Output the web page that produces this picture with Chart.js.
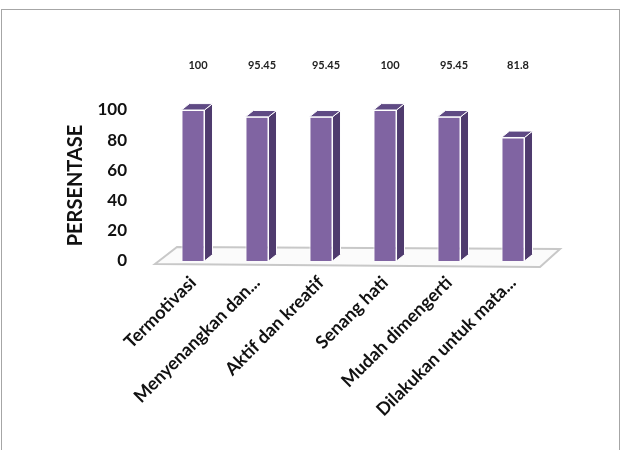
<!DOCTYPE html>
<html>
<head>
<meta charset="utf-8">
<script src="https://cdn.jsdelivr.net/npm/chart.js@4"></script>
<style>
  body { margin: 0; background: #fff; }
  #wrap { position: relative; width: 630px; height: 450px; }
  #frame { position: absolute; left: 1px; top: 9px; width: 619px; height: 450px; border: 1px solid #a6a6a6; box-sizing: border-box; }
  canvas { position: absolute; left: 0; top: 0; }
</style>
</head>
<body>
<div id="wrap">
  <div id="frame"></div>
  <canvas id="grafik" width="630" height="450"></canvas>
</div>
<script>
// data
var kategori = ['Termotivasi', 'Menyenangkan dan...', 'Aktif dan kreatif', 'Senang hati', 'Mudah dimengerti', 'Dilakukan untuk mata...'];
var persen = [100, 95.45, 95.45, 100, 95.45, 81.8];
var labelNilai = ['100', '95.45', '95.45', '100', '95.45', '81.8'];

var ungu = '#8064a2';
var unguGelap = '#4f3b6e';
var unguAtas = '#5f4a84';
var kedalaman = 8;

// lantai 3D di bawah batang
var lantai = {
    id: 'lantai',
    beforeDatasetsDraw: function(chart) {
        var c = chart.ctx, a = chart.chartArea;
        var y0 = chart.scales.y.getPixelForValue(0);
        c.save();
        c.beginPath();
        c.moveTo(a.left - 6, y0 + 3);
        c.lineTo(a.right - 5, y0 + 6);
        c.lineTo(a.right + 15, y0 - 12);
        c.lineTo(a.left + 16, y0 - 14);
        c.closePath();
        c.fillStyle = '#fbfbfb';
        c.fill();
        c.strokeStyle = '#c8c8c8';
        c.lineWidth = 2;
        c.stroke();
        c.restore();
    }
};

// sisi samping + atas batang, dan label nilai
var batang3d = {
    id: 'batang3d',
    afterDatasetsDraw: function(chart) {
        var c = chart.ctx;
        var meta = chart.getDatasetMeta(0);
        var d = kedalaman, dy = kedalaman * 0.8;
        c.save();
        meta.data.forEach(function(bar, i) {
            var l = bar.x - bar.width / 2, r = bar.x + bar.width / 2;
            var t = bar.y, b = bar.base;
            c.beginPath();
            c.moveTo(r, t);
            c.lineTo(r + d, t - dy);
            c.lineTo(r + d, b - dy);
            c.lineTo(r, b);
            c.closePath();
            c.fillStyle = unguGelap;
            c.fill();
            c.strokeStyle = '#ffffff';
            c.lineWidth = 1;
            c.stroke();
            c.beginPath();
            c.moveTo(l, t);
            c.lineTo(l + d, t - dy);
            c.lineTo(r + d, t - dy);
            c.lineTo(r, t);
            c.closePath();
            c.fillStyle = unguAtas;
            c.fill();
            c.stroke();

            c.fillStyle = '#222';
            c.font = 'bold 11px Lato';
            c.textAlign = 'center';
            c.textBaseline = 'middle';
            c.fillText(labelNilai[i], bar.x + 5, 65);
        });
        c.restore();
    }
};

new Chart(document.getElementById('grafik'), {
    type: 'bar',
    data: {
        labels: kategori,
        datasets: [{
            data: persen,
            backgroundColor: ungu,
            borderColor: '#ffffff',
            borderWidth: 1,
            barPercentage: 0.36,
            categoryPercentage: 1
        }]
    },
    options: {
        responsive: false,
        animation: false,
        layout: { padding: { left: 64, right: 85, top: 110, bottom: 0 } },
        plugins: { legend: { display: false }, tooltip: { enabled: false } },
        scales: {
            x: {
                grid: { display: false },
                border: { display: false },
                afterFit: function(s) { s.paddingLeft = 0; s.paddingRight = 0; s.height = 189; },
                ticks: {
                    color: '#111',
                    font: { family: 'Lato', weight: 'bold', size: 18 },
                    maxRotation: 45, minRotation: 45,
                    padding: 3
                }
            },
            y: {
                min: 0, max: 100,
                grid: { display: false },
                border: { display: false },
                afterFit: function(s) { s.width = 97; },
                ticks: {
                    stepSize: 20,
                    color: '#111',
                    font: { family: 'Lato', weight: 'bold', size: 17 },
                    padding: 26
                },
                title: {
                    display: true,
                    text: 'PERSENTASE',
                    color: '#111',
                    font: { family: 'Lato', weight: 'bold', size: 20 },
                    padding: 0
                }
            }
        }
    },
    plugins: [lantai, batang3d]
});
</script>
</body>
</html>
